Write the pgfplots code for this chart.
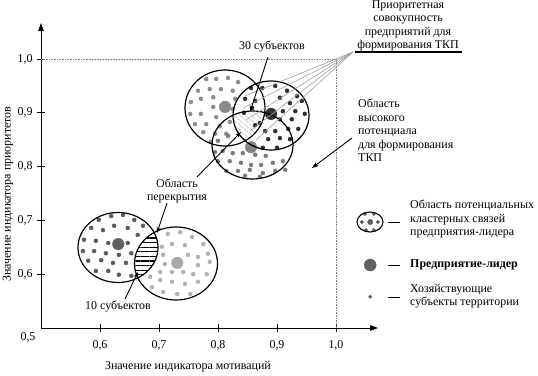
\documentclass[border=0pt]{standalone}
\usepackage{fontspec}
\setmainfont{Liberation Serif}
\usepackage{pgfplots}
\pgfplotsset{compat=1.18}
\usetikzlibrary{arrows.meta,patterns.meta}

\definecolor{cA}{HTML}{8A8A8A}
\definecolor{cAd}{HTML}{8C8C8C}
\definecolor{cB}{HTML}{333333}
\definecolor{cBd}{HTML}{2E2E2E}
\definecolor{cC}{HTML}{858585}
\definecolor{cCd}{HTML}{7A7A7A}
\definecolor{cD}{HTML}{606060}
\definecolor{cDd}{HTML}{5A5A5A}
\definecolor{cE}{HTML}{A8A8A8}
\definecolor{cEd}{HTML}{B0B0B0}
\definecolor{fan}{HTML}{A0A0A0}

\begin{document}
\begin{tikzpicture}[font=\fontsize{12}{13.6}\selectfont]
\useasboundingbox (-41bp,-48bp) rectangle (497bp,328bp);

% hatched overlap regions (drawn below the data)
\begin{scope}[x=1bp,y=-1bp,shift={(-41bp,328bp)}]
  \begin{scope}
    \clip (118,247.5) ellipse [x radius=40bp, y radius=35bp];
    \fill[white] (176,263.5) ellipse [x radius=41.5bp, y radius=36.5bp];
    \fill[pattern={Lines[angle=0,distance=4.6bp,line width=1.1bp]}, pattern color=black]
      (176,263.5) ellipse [x radius=41.5bp, y radius=36.5bp];
  \end{scope}
  \begin{scope}
    \clip (225,108) ellipse [x radius=40bp, y radius=38bp];
    \clip (271,115.5) ellipse [x radius=38bp, y radius=34.5bp];
    \fill[pattern={Lines[angle=-40,distance=3.6bp,line width=0.8bp]}, pattern color=gray!55]
      (252.5,145) ellipse [x radius=40.5bp, y radius=34bp];
  \end{scope}
\end{scope}

\begin{axis}[
  at={(0,0)}, anchor=south west,
  scale only axis, width=337bp, height=305bp,
  xmin=0.5, xmax=1.0712, ymin=0.5, ymax=1.0669,
  axis x line=bottom, axis y line=left,
  axis line style={line width=0.9bp, -{Triangle[length=8bp,width=5.5bp]}},
  xtick={0.6,0.7,0.8,0.9,1.0}, ytick={0.6,0.7,0.8,0.9,1.0},
  tick style={black, line width=0.8bp},
  major tick length=8bp, tick align=center,
  /pgf/number format/assume math mode=true,
  /pgf/number format/use comma,
  /pgf/number format/fixed,
  /pgf/number format/fixed zerofill,
  /pgf/number format/precision=1,
  xticklabel style={yshift=-5bp},
  yticklabel style={xshift=-1bp},
  xlabel={Значение индикатора мотиваций},
  ylabel={Значение индикатора приоритетов},
  x label style={at={(axis description cs:0.436,-0.128)}, anchor=center},
  y label style={at={(axis description cs:-0.098,0.439)}, anchor=center},
  clip=false,
]
% reference lines at 1,0
\addplot[densely dotted, line width=0.6bp, gray] coordinates {(0.5,1.0) (1.0,1.0) (1.0,0.5)};

% cluster A (upper left) subjects
\addplot[only marks, mark=*, mark size=2bp, color=cAd] coordinates {
(0.780,0.963) (0.797,0.963) (0.817,0.965) (0.834,0.957) (0.766,0.941)
(0.786,0.944) (0.805,0.944) (0.825,0.941) (0.754,0.920) (0.771,0.926)
(0.792,0.929) (0.829,0.926) (0.753,0.898) (0.771,0.898) (0.792,0.911)
(0.797,0.892) (0.825,0.907) (0.761,0.879) (0.780,0.879) (0.803,0.875)
(0.820,0.883) (0.775,0.864) (0.795,0.861) (0.814,0.861) (0.788,0.846)};
% cluster B (upper right) subjects
\addplot[only marks, mark=*, mark size=2bp, color=cBd] coordinates {
(0.875,0.946) (0.897,0.950) (0.917,0.941) (0.934,0.931) (0.846,0.926)
(0.863,0.922) (0.905,0.928) (0.922,0.918) (0.942,0.922) (0.858,0.909)
(0.910,0.903) (0.931,0.903) (0.947,0.898) (0.871,0.881) (0.905,0.888)
(0.925,0.888) (0.880,0.866) (0.897,0.866) (0.919,0.870) (0.936,0.870)
(0.885,0.851) (0.905,0.853) (0.922,0.851) (0.876,0.835) (0.900,0.835)
(0.856,0.946) (0.844,0.900) (0.863,0.877)};
% cluster C (lower middle) subjects
\addplot[only marks, mark=*, mark size=2bp, color=cCd] coordinates {
(0.808,0.829) (0.825,0.825) (0.842,0.825) (0.863,0.822) (0.881,0.820)
(0.800,0.848) (0.817,0.857) (0.800,0.810) (0.820,0.810) (0.839,0.807)
(0.856,0.803) (0.873,0.803) (0.893,0.807) (0.910,0.810) (0.814,0.792)
(0.834,0.792) (0.854,0.794) (0.876,0.788) (0.897,0.792) (0.914,0.794)
(0.846,0.783) (0.871,0.781) (0.795,0.827)};
% cluster D (lower left) subjects
\addplot[only marks, mark=*, mark size=2bp, color=cDd] coordinates {
(0.598,0.701) (0.619,0.708) (0.639,0.710) (0.658,0.701) (0.585,0.686)
(0.605,0.682) (0.624,0.690) (0.647,0.686) (0.673,0.690) (0.573,0.664)
(0.593,0.662) (0.614,0.658) (0.647,0.658) (0.664,0.673) (0.571,0.643)
(0.590,0.643) (0.610,0.639) (0.632,0.636) (0.653,0.639) (0.580,0.625)
(0.602,0.626) (0.622,0.621) (0.644,0.621) (0.593,0.606) (0.614,0.606)
(0.632,0.599) (0.653,0.597)};
% cluster E (lower right) subjects
\addplot[only marks, mark=*, mark size=2bp, color=cEd] coordinates {
(0.715,0.675) (0.736,0.678) (0.756,0.669) (0.775,0.656) (0.722,0.656)
(0.744,0.654) (0.705,0.651) (0.783,0.638) (0.707,0.636) (0.749,0.636)
(0.766,0.632) (0.710,0.619) (0.766,0.617) (0.786,0.623) (0.702,0.604)
(0.722,0.604) (0.741,0.604) (0.758,0.600) (0.781,0.600) (0.702,0.589)
(0.722,0.586) (0.744,0.582) (0.766,0.586) (0.707,0.567) (0.731,0.563)
(0.753,0.563) (0.688,0.576) (0.685,0.595)};

% leader enterprises
\addplot[only marks, mark=*, mark size=5.8bp, color=cA] coordinates {(0.812,0.911)};
\addplot[only marks, mark=*, mark size=5.8bp, color=cB] coordinates {(0.890,0.898)};
\addplot[only marks, mark=*, mark size=5.8bp, color=cC] coordinates {(0.856,0.836)};
\addplot[only marks, mark=*, mark size=5.8bp, color=cD] coordinates {(0.631,0.656)};
\addplot[only marks, mark=*, mark size=5.8bp, color=cE] coordinates {(0.731,0.621)};

% legend symbols
\addplot[only marks, mark=*, mark size=1.7bp, color=cDd] coordinates {
(1.049,0.712) (1.064,0.712) (1.044,0.697) (1.071,0.697) (1.051,0.682) (1.064,0.682)};
\addplot[only marks, mark=*, mark size=2.7bp, color=cD] coordinates {(1.058,0.697)};
\addplot[only marks, mark=*, mark size=6bp, color=cD] coordinates {(1.058,0.617)};
\addplot[only marks, mark=*, mark size=1.7bp, color=cD] coordinates {(1.058,0.558)};

\node at (axis cs:0.5,0.5) [xshift=-13bp, yshift=-9bp] {0,5};
\end{axis}

% circles, annotations and legend text
\begin{scope}[x=1bp,y=-1bp,shift={(-41bp,328bp)}]
  \draw[line width=1.2bp] (225,108) ellipse [x radius=40bp, y radius=38bp];
  \draw[line width=1.2bp] (271,115.5) ellipse [x radius=38bp, y radius=34.5bp];
  \draw[line width=1.2bp] (252.5,145) ellipse [x radius=40.5bp, y radius=34bp];
  \draw[line width=1.2bp] (118,247.5) ellipse [x radius=40bp, y radius=35bp];
  \draw[line width=1.2bp] (176,263.5) ellipse [x radius=41.5bp, y radius=36.5bp];

  % fan lines to the priority set
  \foreach \ex/\ey in {245/96, 243/108, 246/120, 250/131, 256/140}
    \draw[fan, line width=0.6bp] (353,52) -- (\ex,\ey);
  \draw[line width=1.6bp] (355,52) -- (462,52);
  \node[align=center, inner sep=0pt, anchor=north] at (408,0.3)
    {Приоритетная\\совокупность\\предприятий для\\формирования ТКП};

  \node[inner sep=0pt] at (272,47) {30 субъектов};
  \draw[line width=0.9bp, -{Stealth[length=6bp,width=4bp]}] (268,57) -- (250,112);

  \node[align=center, inner sep=0pt] at (177,191) {Область\\перекрытия};
  \draw[line width=0.9bp, -{Stealth[length=6bp,width=4bp]}] (197,177) -- (241,132);
  \draw[line width=0.9bp, -{Stealth[length=6bp,width=4bp]}] (167,203) -- (157,233);

  \node[inner sep=0pt] at (118,307) {10 субъектов};
  \draw[line width=0.9bp, -{Stealth[length=6bp,width=4bp]}] (125,299) -- (138,272);

  \node[align=left, anchor=west, inner sep=0pt] at (358,130.5)
    {Область\\высокого\\потенциала\\для формирования\\ТКП};
  \draw[line width=0.9bp, -{Stealth[length=7bp,width=5bp]}] (352,138) -- (312,168);

  % legend
  \draw[line width=1.1bp] (370,222) ellipse [x radius=13bp, y radius=10bp];
  \draw[line width=0.6bp] (388,222) -- (400,222);
  \draw[line width=0.6bp] (388,265) -- (400,265);
  \draw[line width=0.6bp] (388,297) -- (400,297);
  \node[align=left, anchor=west, inner sep=0pt] at (410,219)
    {Область потенциальных\\кластерных связей\\предприятия-лидера};
  \node[anchor=west, inner sep=0pt, font=\fontsize{12}{13.6}\selectfont\bfseries] at (410,265) {Предприятие-лидер};
  \node[align=left, anchor=west, inner sep=0pt] at (410,296)
    {Хозяйствующие\\субъекты территории};
\end{scope}
\end{tikzpicture}
\end{document}
